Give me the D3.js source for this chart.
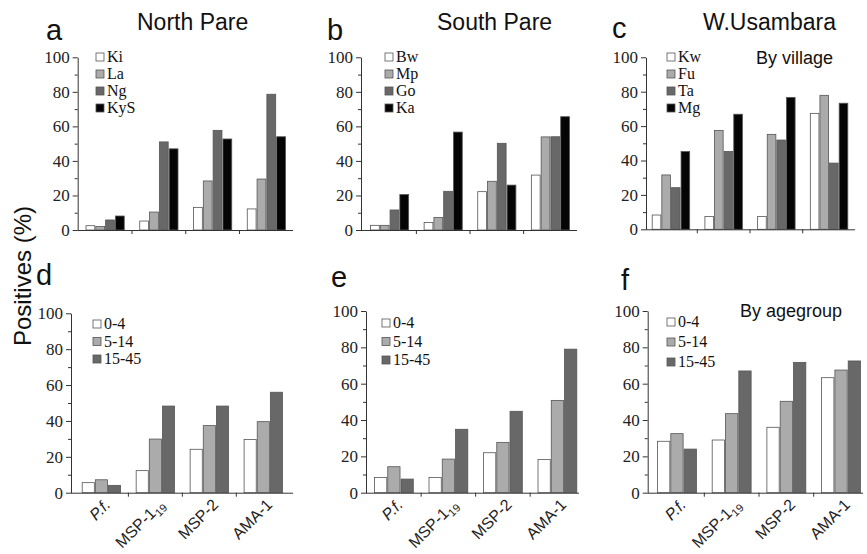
<!DOCTYPE html>
<html>
<head>
<meta charset="utf-8">
<script src="https://cdn.jsdelivr.net/npm/d3@7"></script>
<style>
  body { margin: 0; background: #fff; }
  svg { display: block; }
  .axis path, .axis line { stroke: #333; }
</style>
</head>
<body>
<svg id="chart" width="867" height="554"></svg>
<script>
// antigens on the x axis (same order in every panel)
const antigens = ['P.f.', 'MSP-1', 'MSP-2', 'AMA-1'];

// by village, one row per antigen
const northVillages = ['Ki', 'La', 'Ng', 'KyS'];
const northByVillage = [[2.5, 2, 5.8, 8.1], [5.2, 10.4, 51, 47], [13.1, 28.4, 57.7, 52.7], [12.2, 29.5, 78.6, 54]];
const southVillages = ['Bw', 'Mp', 'Go', 'Ka'];
const southByVillage = [[2.7, 2.7, 11.6, 20.5], [4.4, 7.3, 22.4, 56.7], [22.2, 28.2, 50.2, 26], [31.8, 53.9, 54, 65.6]];
const usambaraVillages = ['Kw', 'Fu', 'Ta', 'Mg'];
const usambaraByVillage = [[8.3, 31.6, 24.2, 45.2], [7.4, 57.4, 45.2, 66.9], [7.4, 55.2, 51.9, 76.7], [67.4, 77.9, 38.5, 73.3]];

// by age group
const ageGroups = ['0-4', '5-14', '15-45'];
const northByAge = [[5.6, 7.2, 4.1], [12.3, 29.9, 48.3], [24.2, 37.4, 48.3], [29.7, 39.6, 56]];
const southByAge = [[8.4, 14.3, 7.5], [8.4, 18.5, 34.9], [22, 27.7, 44.8], [18.3, 50.8, 79]];
const usambaraByAge = [[28.3, 32.5, 24], [29, 43.5, 67], [36, 50.3, 71.7], [63.3, 67.5, 72.5]];

const yTicks = [0, 20, 40, 60, 80, 100];
const yMinorTicks = [10, 30, 50, 70, 90];

const shades = ['#ffffff', '#ababab', '#686868', '#050505'];

const panels = [
  { letter: 'a', title: 'North Pare', series: northVillages, values: northByVillage,
    axisX: [77.7, 293], groups: [85.5, 286], y: [230, 57.3], letterPos: [46, 40], titlePos: [137, 30],
    legend: [96, 57], legendStep: 17, showX: false },
  { letter: 'b', title: 'South Pare', series: southVillages, values: southByVillage,
    axisX: [361, 577], groups: [370, 570], y: [230, 57.3], letterPos: [327, 40], titlePos: [437, 30],
    legend: [385, 57], legendStep: 17, showX: false },
  { letter: 'c', title: 'W.Usambara', sub: 'By village', series: usambaraVillages, values: usambaraByVillage,
    axisX: [646, 855], groups: [651.7, 848.3], y: [229.3, 57.3], letterPos: [612, 38], titlePos: [703, 30],
    subPos: [756, 64], legend: [667, 57], legendStep: 17, showX: false },
  { letter: 'd', series: ageGroups, values: northByAge,
    axisX: [71, 293], groups: [81.7, 283], y: [492.7, 313.3], letterPos: [36, 285],
    legend: [93, 324], legendStep: 17.5, showX: true },
  { letter: 'e', series: ageGroups, values: southByAge,
    axisX: [366, 579], groups: [374, 577.3], y: [492.7, 311], letterPos: [331, 287],
    legend: [382, 323], legendStep: 18.5, showX: true },
  { letter: 'f', sub: 'By agegroup', series: ageGroups, values: usambaraByAge,
    axisX: [647.7, 863], groups: [657, 861], y: [492.7, 311], letterPos: [621, 290],
    subPos: [740, 317], legend: [667, 322], legendStep: 20, showX: true }
];

const svg = d3.select('#chart');
const sans = '"Liberation Sans", Arial, sans-serif';
const serif = '"Liberation Serif", "Times New Roman", serif';

panels.forEach(p => {
  const g = svg.append('g');

  const y = d3.scaleLinear().domain([0, 100]).range(p.y);
  const x0 = d3.scaleBand().domain(antigens).range(p.groups).paddingInner(0.27).paddingOuter(0);
  const x1 = d3.scaleBand().domain(p.series).range([0, x0.bandwidth()]);
  const color = d3.scaleOrdinal().domain(p.series).range(shades.slice(0, p.series.length));

  // bars
  g.selectAll('.grp')
    .data(antigens)
    .enter()
    .append('g')
    .attr('transform', d => `translate(${x0(d)},0)`)
    .selectAll('rect')
    .data((d, i) => p.series.map((s, j) => ({ s, v: p.values[i][j] })))
    .enter()
    .append('rect')
    .attr('x', d => x1(d.s) + 0.5)
    .attr('width', x1.bandwidth() - 1)
    .attr('y', d => y(d.v))
    .attr('height', d => y(0) - y(d.v))
    .attr('fill', d => color(d.s))
    .attr('stroke', '#555')
    .attr('stroke-width', 0.8);

  // y axis, major and minor ticks
  g.append('g')
    .attr('class', 'axis')
    .attr('transform', `translate(${p.axisX[0]},0)`)
    .call(d3.axisLeft(y).tickValues(yTicks).tickSize(5).tickPadding(3).tickSizeOuter(0))
    .attr('font-family', serif)
    .attr('font-size', 17)
    .selectAll('text').attr('fill', '#222');
  g.append('g')
    .attr('class', 'axis')
    .attr('transform', `translate(${p.axisX[0]},0)`)
    .call(d3.axisLeft(y).tickValues(yMinorTicks).tickSize(3).tickFormat('').tickSizeOuter(0))
    .select('.domain').remove();

  // x axis line with ticks between groups
  const gap = x0.step() - x0.bandwidth();
  const bounds = antigens.slice(1).map(a => x0(a) - gap / 2);
  g.append('line')
    .attr('x1', p.axisX[0]).attr('x2', p.axisX[1])
    .attr('y1', y(0) + 0.5).attr('y2', y(0) + 0.5)
    .attr('stroke', '#333');
  g.selectAll('.xt')
    .data(bounds)
    .enter()
    .append('line')
    .attr('x1', d => d).attr('x2', d => d)
    .attr('y1', y(0)).attr('y2', y(0) + 4)
    .attr('stroke', '#333');

  if (p.showX) {
    const lab = g.selectAll('.xl')
      .data(antigens)
      .enter()
      .append('text')
      .attr('transform', d => `translate(${x0(d) + x0.bandwidth() / 2 + 10},${y(0) + 13}) rotate(-45)`)
      .attr('text-anchor', 'end')
      .attr('font-family', sans)
      .attr('font-size', 16)
      .attr('fill', '#222');
    lab.each(function(d) {
      const t = d3.select(this);
      if (d === 'P.f.') {
        t.append('tspan').attr('font-style', 'italic').text(d);
      } else if (d === 'MSP-1') {
        t.append('tspan').text(d);
        t.append('tspan').attr('font-size', 11).attr('dy', 4).text('19');
      } else {
        t.append('tspan').text(d);
      }
    });
  }

  // legend
  const leg = g.selectAll('.leg')
    .data(p.series)
    .enter()
    .append('g')
    .attr('transform', (d, i) => `translate(${p.legend[0]},${p.legend[1] + i * p.legendStep})`);
  leg.append('rect')
    .attr('x', 0).attr('y', -4)
    .attr('width', 8).attr('height', 8)
    .attr('fill', d => color(d))
    .attr('stroke', '#555').attr('stroke-width', 0.8);
  leg.append('text')
    .attr('x', 11).attr('y', 5)
    .attr('font-family', serif)
    .attr('font-size', 16)
    .attr('fill', '#111')
    .text(d => d);

  // panel letter and titles
  g.append('text')
    .attr('x', p.letterPos[0]).attr('y', p.letterPos[1])
    .attr('font-family', sans).attr('font-size', 29).attr('fill', '#111')
    .text(p.letter);
  if (p.title) {
    g.append('text')
      .attr('x', p.titlePos[0]).attr('y', p.titlePos[1])
      .attr('font-family', sans).attr('font-size', 23).attr('fill', '#111')
      .text(p.title);
  }
  if (p.sub) {
    g.append('text')
      .attr('x', p.subPos[0]).attr('y', p.subPos[1])
      .attr('font-family', sans).attr('font-size', 18).attr('fill', '#111')
      .text(p.sub);
  }
});

// shared y title
svg.append('text')
  .attr('transform', 'translate(31,276) rotate(-90)')
  .attr('text-anchor', 'middle')
  .attr('font-family', sans)
  .attr('font-size', 24)
  .attr('fill', '#111')
  .text('Positives (%)');
</script>
</body>
</html>
